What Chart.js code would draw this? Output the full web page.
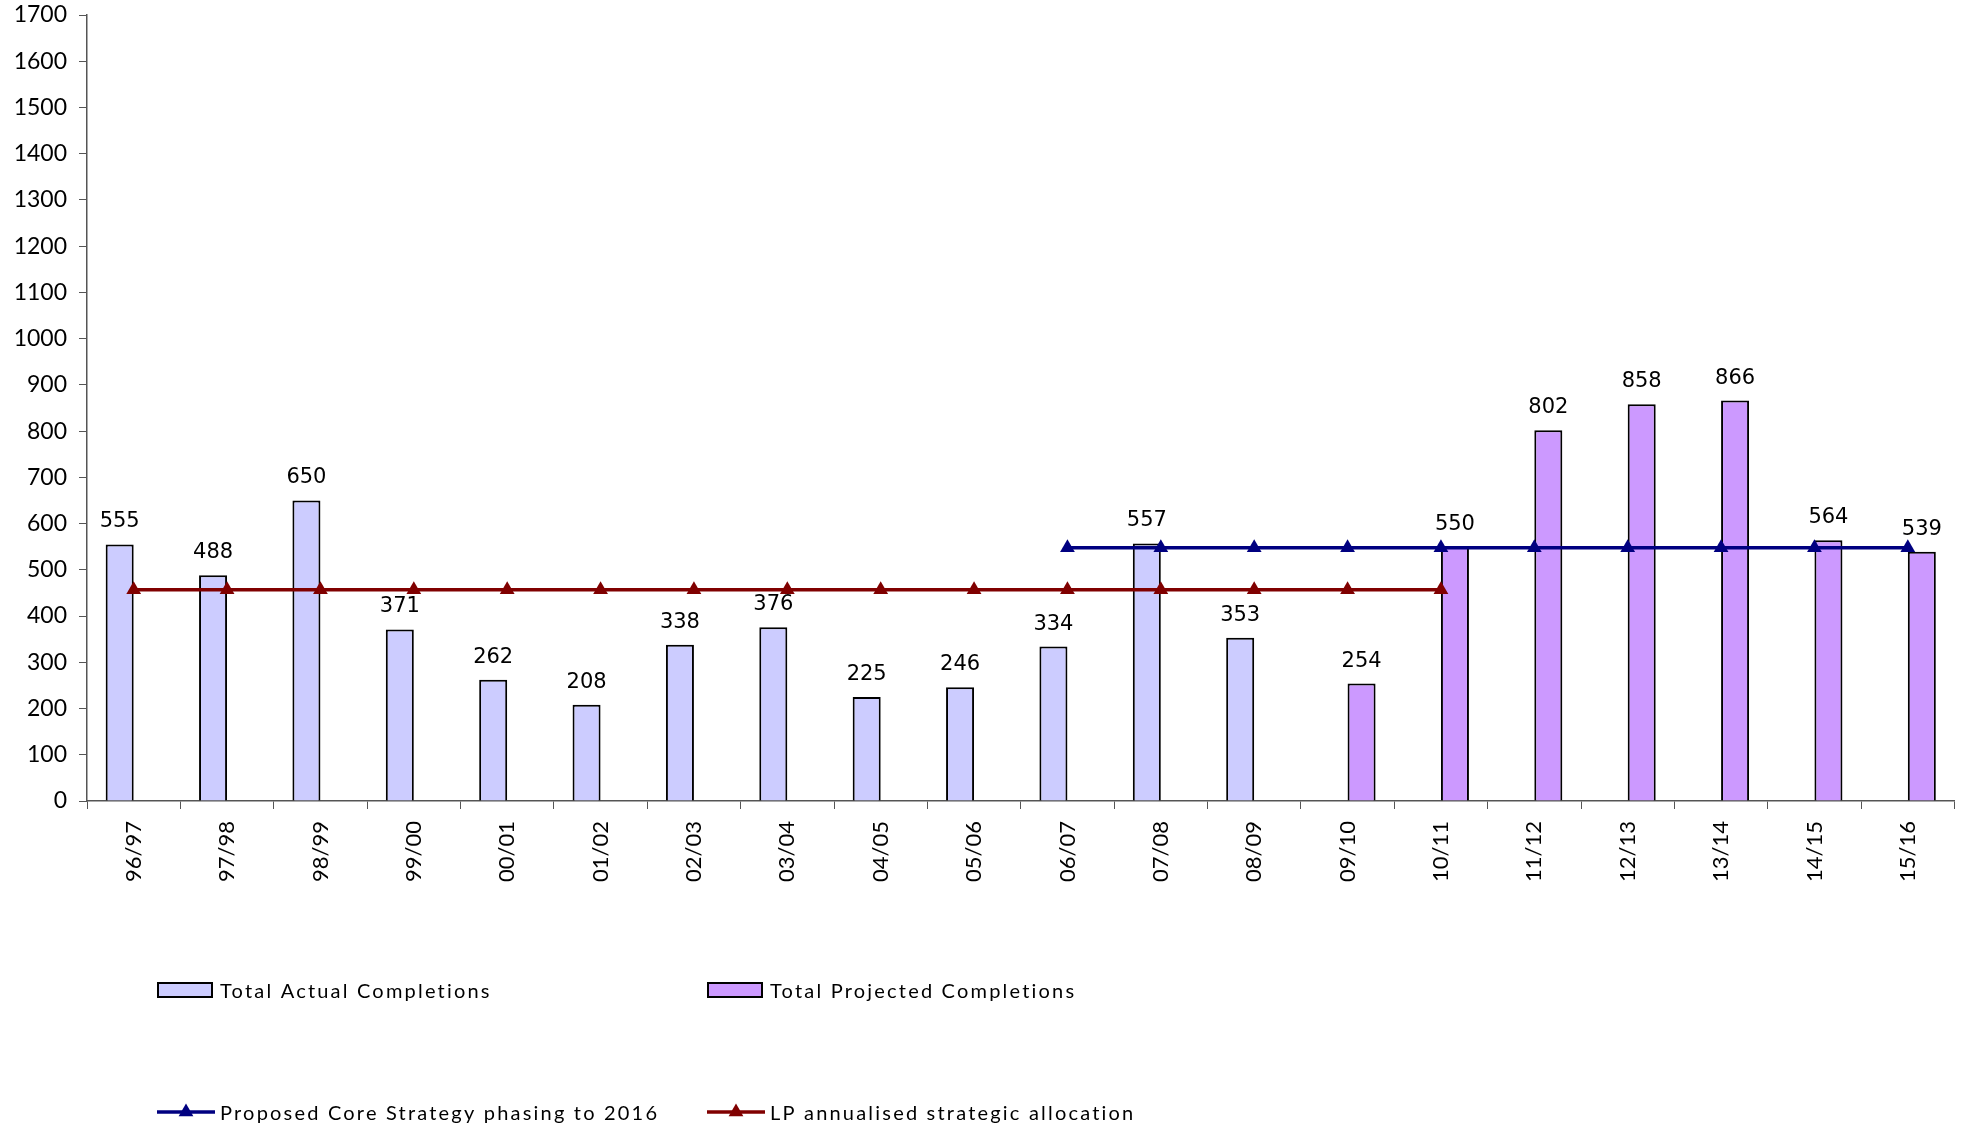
<!DOCTYPE html>
<html>
<head>
<meta charset="utf-8">
<script src="https://cdn.jsdelivr.net/npm/chart.js@4/dist/chart.umd.min.js"></script>
<style>
  html, body { margin: 0; padding: 0; background: #ffffff; }
  #wrap { width: 1963px; height: 1130px; }
</style>
</head>
<body>
<div id="wrap"><canvas id="c" width="1963" height="1130"></canvas></div>
<script>
const categories = ["96/97","97/98","98/99","99/00","00/01","01/02","02/03","03/04","04/05","05/06","06/07","07/08","08/09","09/10","10/11","11/12","12/13","13/14","14/15","15/16"];
const actualCompletions = [555, 488, 650, 371, 262, 208, 338, 376, 225, 246, 334, 557, 353, null, null, null, null, null, null, null];
const projectedCompletions = [null, null, null, null, null, null, null, null, null, null, null, null, null, 254, 550, 802, 858, 866, 564, 539];
const coreStrategy = [null, null, null, null, null, null, null, null, null, null, 548, 548, 548, 548, 548, 548, 548, 548, 548, 548];
const lpAllocation = [457, 457, 457, 457, 457, 457, 457, 457, 457, 457, 457, 457, 457, 457, 457, null, null, null, null, null];
const yTicks = { min: 0, max: 1700, step: 100 };

const seriesNames = ["Total Actual Completions", "Total Projected Completions", "Proposed Core Strategy phasing to 2016", "LP annualised strategic allocation"];

const barLabels = {
  id: 'barLabels',
  afterDatasetsDraw(chart) {
    const ctx = chart.ctx;
    ctx.save();
    ctx.font = '21px "DejaVu Sans"';
    ctx.fillStyle = '#000';
    ctx.textAlign = 'center';
    ctx.textBaseline = 'alphabetic';
    [0, 1].forEach(di => {
      const meta = chart.getDatasetMeta(di);
      const data = chart.data.datasets[di].data;
      meta.data.forEach((el, i) => {
        if (data[i] === null || data[i] === undefined) return;
        ctx.fillText(String(data[i]), el.x, el.y - 17);
      });
    });
    ctx.restore();
  }
};

const customLegend = {
  id: 'customLegend',
  afterDraw(chart) {
    const ctx = chart.ctx;
    const ds = chart.data.datasets;
    ctx.save();
    ctx.font = '20px Lato';
    ctx.letterSpacing = '2.2px';
    ctx.fillStyle = '#000';
    ctx.textBaseline = 'middle';
    ctx.textAlign = 'left';
    const items = [
      { type: 'box', x: 158, y: 990, tx: 220, d: ds[0] },
      { type: 'box', x: 708, y: 990, tx: 770, d: ds[1] },
      { type: 'line', x: 157, y: 1112, tx: 220, d: ds[2] },
      { type: 'line', x: 707, y: 1112, tx: 770, d: ds[3] }
    ];
    items.forEach(it => {
      if (it.type === 'box') {
        ctx.fillStyle = it.d.backgroundColor;
        ctx.fillRect(it.x, it.y - 7, 54, 14);
        ctx.lineWidth = 2;
        ctx.strokeStyle = '#000';
        ctx.strokeRect(it.x, it.y - 7, 54, 14);
      } else {
        ctx.strokeStyle = it.d.borderColor;
        ctx.lineWidth = 3.5;
        ctx.beginPath();
        ctx.moveTo(it.x, it.y);
        ctx.lineTo(it.x + 58, it.y);
        ctx.stroke();
        const cx = it.x + 29, r = 8.5;
        ctx.fillStyle = it.d.borderColor;
        ctx.beginPath();
        ctx.moveTo(cx, it.y - r);
        ctx.lineTo(cx + 0.866 * r, it.y + 0.5 * r);
        ctx.lineTo(cx - 0.866 * r, it.y + 0.5 * r);
        ctx.closePath();
        ctx.fill();
      }
      ctx.fillStyle = '#000';
      ctx.fillText(it.d.label, it.tx, it.y + 2);
    });
    ctx.restore();
  }
};

new Chart(document.getElementById('c'), {
  type: 'bar',
  data: {
    labels: categories,
    datasets: [
      { type: 'bar', label: seriesNames[0], data: actualCompletions, backgroundColor: '#CCCCFF', borderColor: '#000000', borderWidth: 2, order: 2, categoryPercentage: 0.6, barPercentage: 1.0 },
      { type: 'bar', label: seriesNames[1], data: projectedCompletions, backgroundColor: '#CC99FF', borderColor: '#000000', borderWidth: 2, order: 2, categoryPercentage: 0.6, barPercentage: 1.0 },
      { type: 'line', label: seriesNames[2], data: coreStrategy, borderColor: '#000080', backgroundColor: '#000080', borderWidth: 3.5, pointStyle: 'triangle', pointRadius: 8.5, pointBorderWidth: 0, pointBackgroundColor: '#000080', fill: false, spanGaps: false, order: 1, tension: 0 },
      { type: 'line', label: seriesNames[3], data: lpAllocation, borderColor: '#800000', backgroundColor: '#800000', borderWidth: 3.5, pointStyle: 'triangle', pointRadius: 8.5, pointBorderWidth: 0, pointBackgroundColor: '#800000', fill: false, spanGaps: false, order: 1, tension: 0 }
    ]
  },
  options: {
    responsive: false,
    animation: false,
    devicePixelRatio: 1,
    layout: { padding: { left: 0, right: 8, top: 15, bottom: 0 } },
    plugins: { legend: { display: false }, tooltip: { enabled: false } },
    scales: {
      x: {
        offset: true,
        grid: { display: true, drawOnChartArea: false, drawTicks: true, tickLength: 8, offset: true, color: '#555555', lineWidth: 1 },
        border: { display: true, color: '#555555', width: 1.5 },
        ticks: { minRotation: 90, maxRotation: 90, autoSkip: false, padding: 12, color: '#000', font: { family: 'Lato', size: 22 } },
        afterFit(scale) { scale.height = 329; scale.paddingLeft = 0; scale.paddingRight = 0; }
      },
      y: {
        min: yTicks.min, max: yTicks.max,
        grid: { display: true, drawOnChartArea: false, drawTicks: true, tickLength: 8, color: '#555555' },
        border: { display: true, color: '#555555', width: 1.5 },
        ticks: { stepSize: yTicks.step, padding: 12, color: '#000', font: { family: 'Lato', size: 23 }, callback: (v) => String(v) },
        afterFit(scale) { scale.width = 87; scale.paddingTop = 0; scale.paddingBottom = 0; }
      }
    }
  },
  plugins: [barLabels, customLegend]
});
</script>
</body>
</html>
